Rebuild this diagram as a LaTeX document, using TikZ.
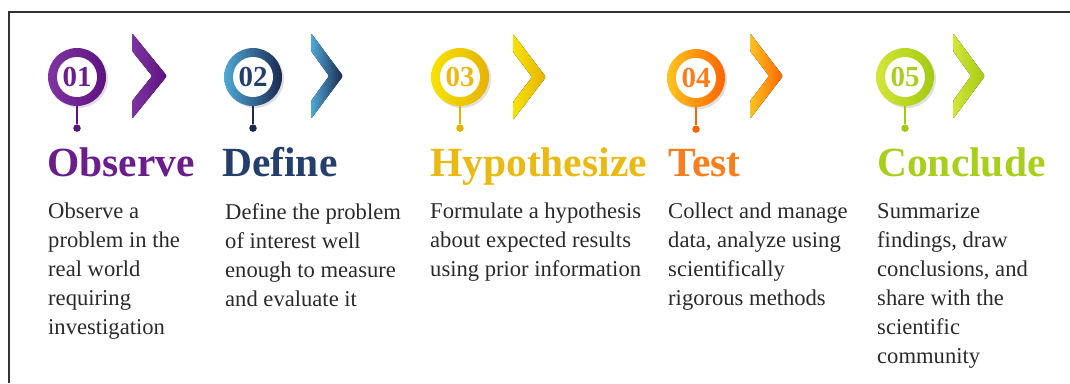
\documentclass[tikz,border=0pt]{standalone}
\usepackage{fontspec}
\setmainfont{Liberation Serif}
\usepackage{tikz}
\usetikzlibrary{shadows}
\usetikzlibrary{positioning}
\definecolor{bodyText}{HTML}{2A2A2A}
\definecolor{frameLine}{HTML}{333333}
\definecolor{obsLight}{HTML}{7E35A0}
\definecolor{obsDark}{HTML}{5E1282}
\definecolor{obsTitle}{HTML}{6C1D8C}
\definecolor{defLight}{HTML}{4FA8D6}
\definecolor{defDark}{HTML}{1B2850}
\definecolor{defTitle}{HTML}{243F6B}
\definecolor{hypLight}{HTML}{F8E200}
\definecolor{hypDark}{HTML}{E5B200}
\definecolor{hypTitle}{HTML}{EBBA12}
\definecolor{tstLight}{HTML}{FFC41E}
\definecolor{tstDark}{HTML}{FF6400}
\definecolor{tstTitle}{HTML}{FA7E1C}
\definecolor{conLight}{HTML}{D4E638}
\definecolor{conDark}{HTML}{A2CA10}
\definecolor{conTitle}{HTML}{A9CF1D}
\tikzstyle{ring} = [circle, minimum size=58pt, inner sep=0pt,
        drop shadow={opacity=0.25, shadow xshift=2pt, shadow yshift=-2pt}]
\tikzstyle{hole} = [circle, fill=white, minimum size=40pt, inner sep=0pt,
        font={\fontsize{29}{29}\selectfont\bfseries}]
\tikzstyle{dot} = [circle, minimum size=7.5pt, inner sep=0pt]
\tikzstyle{stem} = [line width=1.3pt]
\tikzstyle{title} = [anchor=base west, inner sep=0pt, font={\fontsize{41.5}{41.5}\selectfont\bfseries}]
\tikzstyle{body} = [anchor=north west, inner sep=0pt, align=left, text=bodyText,
        font={\fontsize{22.6}{29}\selectfont}]
\tikzstyle{chevron} = [rounded corners=1.5pt]
\begin{document}
\begin{tikzpicture}[x=1pt, y=-1pt]
                \useasboundingbox (0,0) rectangle (1070,383);
                \draw [frameLine, line width=1.3pt] (1070,12) -- (9,12) -- (9,383);

                % badges
                \node [ring, left color=obsLight, right color=obsDark] (obs) at (77,77) {};
                \node [ring, left color=defLight, right color=defDark] (def) at (253,77) {};
                \node [ring, left color=hypLight, right color=hypDark] (hyp) at (460,77) {};
                \node [ring, left color=tstLight, right color=tstDark] (tst) at (696,78) {};
                \node [ring, left color=conLight, right color=conDark] (con) at (905,77) {};

                \node [hole, text=obsTitle] (obsNum) at (obs.center) {01};
                \node [hole, text=defTitle] (defNum) at (def.center) {02};
                \node [hole, text=hypTitle] (hypNum) at (hyp.center) {03};
                \node [hole, text=tstTitle] (tstNum) at (tst.center) {04};
                \node [hole, text=conTitle] (conNum) at (con.center) {05};

                \node [dot, fill=obsDark, below=18pt of obs] (obsDot) {};
                \node [dot, fill=defDark, below=18pt of def] (defDot) {};
                \node [dot, fill=hypDark, below=18pt of hyp] (hypDot) {};
                \node [dot, fill=tstDark, below=18pt of tst] (tstDot) {};
                \node [dot, fill=conDark, below=18pt of con] (conDot) {};

                \draw [stem, obsDark] (obs) -- (obsDot);
                \draw [stem, defDark] (def) -- (defDot);
                \draw [stem, hypDark] (hyp) -- (hypDot);
                \draw [stem, tstDark] (tst) -- (tstDot);
                \draw [stem, conDark] (con) -- (conDot);

                % chevrons
                \fill [chevron, left color=obsLight, right color=obsDark]
                    (132,33) -- (167,76) -- (132,119) -- (132,101) -- (152,76) -- (132,51) -- cycle;
                \fill [chevron, left color=defLight, right color=defDark]
                    (311,33) -- (343,76) -- (311,119) -- (311,101) -- (329,76) -- (311,51) -- cycle;
                \fill [chevron, left color=hypLight, right color=hypDark]
                    (513,34) -- (546,77) -- (513,120) -- (513,102) -- (532,77) -- (513,52) -- cycle;
                \fill [chevron, left color=tstLight, right color=tstDark]
                    (750,33) -- (783,76) -- (750,119) -- (750,101) -- (769,76) -- (750,51) -- cycle;
                \fill [chevron, left color=conLight, right color=conDark]
                    (953,33) -- (985,76) -- (953,119) -- (953,101) -- (971,76) -- (953,51) -- cycle;

                % titles
                \node [title, text=obsTitle] (obsHead) at (47,176) {Observe};
                \node [title, text=defTitle] (defHead) at (222,176) {Define};
                \node [title, text=hypTitle] (hypHead) at (430,176) {Hypothesize};
                \node [title, text=tstTitle] (tstHead) at (668,176) {Test};
                \node [title, text=conTitle] (conHead) at (877,176) {Conclude};

                % descriptions
                \node [body] (obsText) at (48,203) {Observe a\\problem in the\\real world\\requiring\\investigation};
                \node [body] (defText) at (225,203) {Define the problem\\of interest well\\enough to measure\\and evaluate it};
                \node [body] (hypText) at (430,203) {Formulate a hypothesis\\about expected results\\using prior information};
                \node [body] (tstText) at (668,203) {Collect and manage\\data, analyze using\\scientifically\\rigorous methods};
                \node [body] (conText) at (877,203) {Summarize\\findings, draw\\conclusions, and\\share with the\\scientific\\community};
            \end{tikzpicture}
\end{document}
